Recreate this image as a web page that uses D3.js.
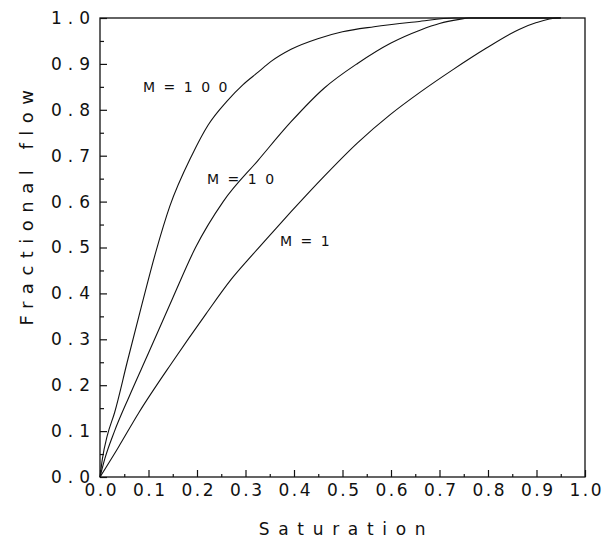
<!DOCTYPE html>
<html>
<head>
<meta charset="utf-8">
<script src="https://cdn.jsdelivr.net/npm/d3@7"></script>
<style>
  body { margin: 0; background: #fff; }
  svg { display: block; }
</style>
</head>
<body>
<div id="chart"></div>
<script>
// fractional flow vs saturation, three mobility ratios
const sat100 = [0, 0.005, 0.015, 0.03, 0.056, 0.085, 0.115, 0.144, 0.189, 0.223, 0.261, 0.295, 0.326, 0.352, 0.394, 0.449, 0.5, 0.565, 0.654, 0.73, 0.95];
const flow100 = [0, 0.04, 0.09, 0.14, 0.25, 0.37, 0.49, 0.59, 0.7, 0.767, 0.818, 0.855, 0.882, 0.905, 0.932, 0.955, 0.97, 0.981, 0.992, 1.0, 1.0];

const sat10 = [0, 0.01, 0.03, 0.06, 0.1, 0.15, 0.197, 0.254, 0.326, 0.394, 0.462, 0.531, 0.599, 0.661, 0.7, 0.741, 0.76, 0.95];
const flow10 = [0, 0.04, 0.1, 0.175, 0.27, 0.39, 0.5, 0.6, 0.69, 0.774, 0.847, 0.901, 0.945, 0.974, 0.988, 0.997, 1.0, 1.0];

const sat1 = [0, 0.038, 0.08, 0.149, 0.219, 0.27, 0.315, 0.364, 0.394, 0.462, 0.531, 0.599, 0.661, 0.727, 0.796, 0.864, 0.9, 0.945, 0.95];
const flow1 = [0, 0.065, 0.14, 0.25, 0.356, 0.43, 0.485, 0.543, 0.578, 0.655, 0.728, 0.79, 0.839, 0.887, 0.934, 0.975, 0.99, 1.0, 1.0];

const curveNames = ['M=100', 'M=10', 'M=1'];
const majorTicks = d3.range(0, 11).map((i) => i / 10);
const minorTicks = d3.range(0, 10).map((i) => i / 10 + 0.05);

const width = 608;
const height = 540;
const margin = { top: 18, right: 23, bottom: 63, left: 100 };
const font = '"DejaVu Sans", sans-serif';

const svg = d3.select('#chart').append('svg')
  .attr('width', width)
  .attr('height', height);

const x = d3.scaleLinear([0, 1], [margin.left, width - margin.right]);
const y = d3.scaleLinear([0, 1], [height - margin.bottom, margin.top]);

const series = [
  { name: curveNames[0], pts: d3.zip(sat100, flow100), lx: 143, ly: 92 },
  { name: curveNames[1], pts: d3.zip(sat10, flow10), lx: 207, ly: 184 },
  { name: curveNames[2], pts: d3.zip(sat1, flow1), lx: 280, ly: 246 }
];

// y axis: ticks point into the plot
const yAxis = svg.append('g')
  .attr('transform', `translate(${margin.left},0)`)
  .call(d3.axisLeft(y).tickValues(majorTicks).tickSizeInner(-7).tickSizeOuter(0)
    .tickPadding(4).tickFormat(d3.format('.1f')));
yAxis.select('.domain').remove();
yAxis.selectAll('text')
  .attr('font-size', 17)
  .attr('font-family', font)
  .attr('letter-spacing', '6px')
  .attr('fill', '#111');

const yMinor = svg.append('g')
  .attr('transform', `translate(${margin.left},0)`)
  .call(d3.axisLeft(y).tickValues(minorTicks).tickSizeInner(-4).tickSizeOuter(0).tickFormat(''));
yMinor.select('.domain').remove();

const xAxis = svg.append('g')
  .attr('transform', `translate(0,${height - margin.bottom})`)
  .call(d3.axisBottom(x).tickValues(majorTicks).tickSizeInner(-7).tickSizeOuter(0)
    .tickPadding(7).tickFormat(d3.format('.1f')));
xAxis.select('.domain').remove();
xAxis.selectAll('text')
  .attr('font-size', 17)
  .attr('font-family', font)
  .attr('letter-spacing', '2.5px')
  .attr('dx', '1.25px')
  .attr('fill', '#111');

const xMinor = svg.append('g')
  .attr('transform', `translate(0,${height - margin.bottom})`)
  .call(d3.axisBottom(x).tickValues(minorTicks).tickSizeInner(-3).tickSizeOuter(0).tickFormat(''));
xMinor.select('.domain').remove();

svg.selectAll('.tick line').attr('stroke', '#111').attr('stroke-width', 1.2);

// frame
svg.append('rect')
  .attr('x', x(0))
  .attr('y', y(1))
  .attr('width', x(1) - x(0))
  .attr('height', y(0) - y(1))
  .attr('fill', 'none')
  .attr('stroke', '#111')
  .attr('stroke-width', 1.3);

const line = d3.line()
  .x((d) => x(d[0]))
  .y((d) => y(d[1]))
  .curve(d3.curveMonotoneX);

svg.append('g')
  .selectAll('path')
  .data(series)
  .join('path')
  .attr('d', (d) => line(d.pts))
  .attr('fill', 'none')
  .attr('stroke', '#111')
  .attr('stroke-width', 1.1);

svg.append('g')
  .selectAll('text')
  .data(series)
  .join('text')
  .attr('x', (d) => d.lx)
  .attr('y', (d) => d.ly)
  .attr('font-size', 14)
  .attr('font-family', font)
  .attr('letter-spacing', '8.5px')
  .attr('fill', '#111')
  .text((d) => d.name);

// axis titles
svg.append('text')
  .attr('x', (x(0) + x(1)) / 2 + 4)
  .attr('y', 535)
  .attr('text-anchor', 'middle')
  .attr('font-size', 17)
  .attr('font-family', font)
  .attr('letter-spacing', '8.7px')
  .attr('fill', '#111')
  .text('Saturation');

svg.append('text')
  .attr('transform', 'translate(33,204) rotate(-90)')
  .attr('text-anchor', 'middle')
  .attr('font-size', 18)
  .attr('font-family', font)
  .attr('letter-spacing', '7.5px')
  .attr('fill', '#111')
  .text('Fractional flow');
</script>
</body>
</html>
